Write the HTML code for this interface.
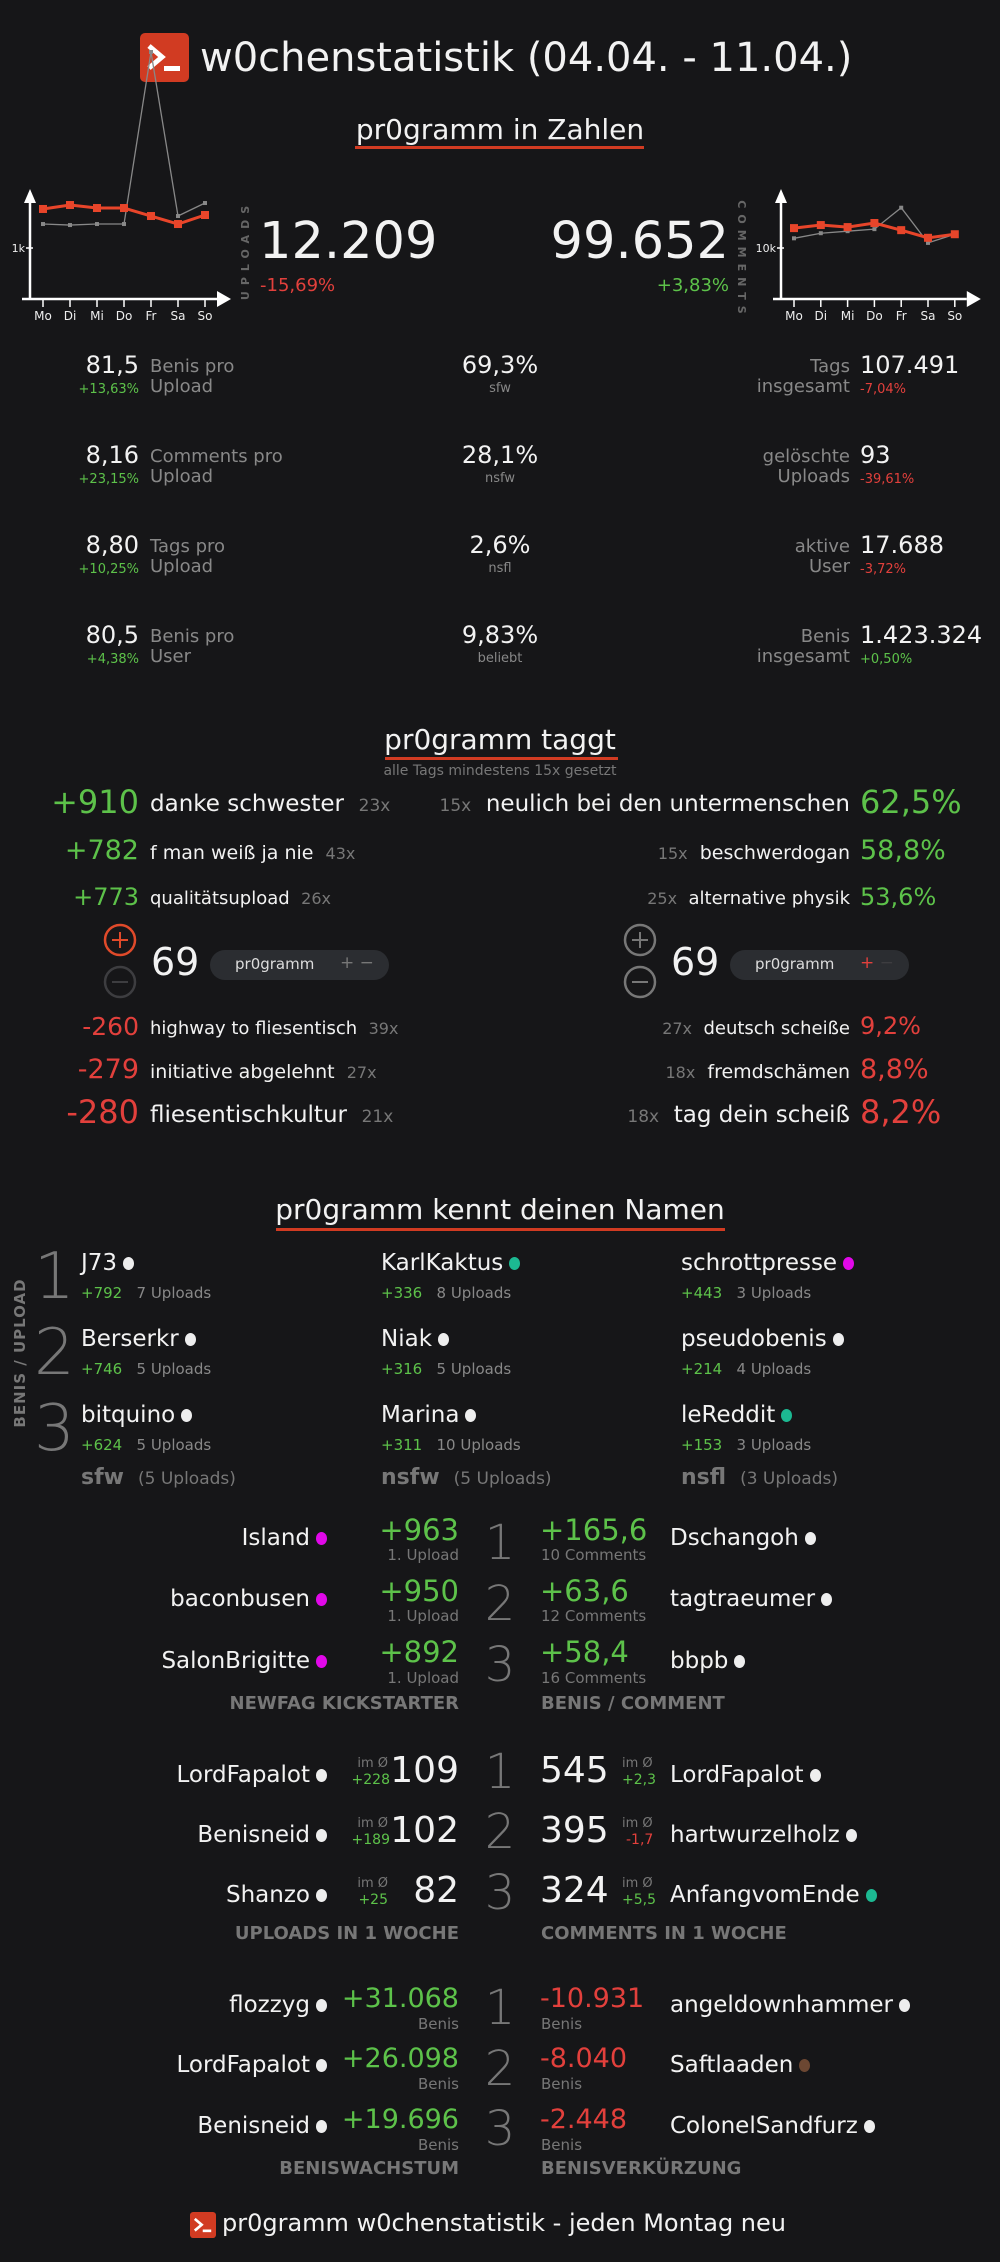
<!DOCTYPE html>
<html><head><meta charset="utf-8">
<style>
html,body{margin:0;padding:0;background:#161618;}
body{width:1000px;height:2262px;position:relative;overflow:hidden;font-family:"DejaVu Sans","Liberation Sans",sans-serif;color:#f2f2f2;}
.t{position:absolute;white-space:nowrap;line-height:1;}
.c{left:0;width:1000px;text-align:center;}
.g{color:#5dc24a}.r{color:#e2403c}.m{color:#888}.d{color:#777}
.ul{position:absolute;height:3px;background:#d13b22;}
.dot{display:inline-block;width:11px;height:13px;border-radius:50%;background:#eee;margin-left:6px;vertical-align:0px;}
.dm{background:#e108e9}.dt{background:#1cb992}.db{background:#6c4732}
.lbl{font-weight:bold;font-size:18px;color:#777;}
.rk{font-family:"DejaVu Sans ExtraLight","DejaVu Sans",sans-serif;font-weight:200;color:#777;}
.pill{position:absolute;height:30px;width:179px;border-radius:15px;background:#2b2d31;}
</style></head><body>

<svg style="position:absolute;left:140px;top:33px" width="49" height="49" viewBox="0 0 49 49"><rect width="49" height="49" rx="5" fill="#d13b22"/><path d="M9 13 L22 24 L9 35" stroke="#fff" stroke-width="5" fill="none"/><rect x="24" y="33" width="16" height="5" fill="#fff"/></svg>
<div class="t" style="left:200px;top:38px;font-size:40px">w0chenstatistik (04.04. - 11.04.)</div>

<div class="t c" style="top:116px;font-size:28px">pr0gramm in Zahlen</div>
<div class="ul" style="left:355px;top:146px;width:289px"></div>

<svg id="charts" style="position:absolute;left:0;top:0" width="1000" height="340"></svg>

<div class="t" style="left:259px;top:216px;font-size:51px">12.209</div>
<div class="t r" style="left:260px;top:277px;font-size:18px">-15,69%</div>
<div class="t" style="right:271px;top:216px;font-size:51px">99.652</div>
<div class="t g" style="right:271px;top:277px;font-size:18px">+3,83%</div>

<!-- stats rows -->
<div class="t" style="right:861px;top:353px;font-size:24px">81,5</div>
<div class="t g" style="right:861px;top:383px;font-size:13px">+13,63%</div>
<div class="t m" style="left:150px;top:357px;font-size:18px;line-height:20px">Benis pro<br>Upload</div>
<div class="t c" style="top:353px;font-size:24px">69,3%</div>
<div class="t c m" style="top:382px;font-size:13px">sfw</div>
<div class="t m" style="right:150px;top:357px;font-size:18px;line-height:20px;text-align:right">Tags<br>insgesamt</div>
<div class="t" style="left:860px;top:353px;font-size:24px">107.491</div>
<div class="t r" style="left:860px;top:383px;font-size:13px">-7,04%</div>

<div class="t" style="right:861px;top:443px;font-size:24px">8,16</div>
<div class="t g" style="right:861px;top:473px;font-size:13px">+23,15%</div>
<div class="t m" style="left:150px;top:447px;font-size:18px;line-height:20px">Comments pro<br>Upload</div>
<div class="t c" style="top:443px;font-size:24px">28,1%</div>
<div class="t c m" style="top:472px;font-size:13px">nsfw</div>
<div class="t m" style="right:150px;top:447px;font-size:18px;line-height:20px;text-align:right">gelöschte<br>Uploads</div>
<div class="t" style="left:860px;top:443px;font-size:24px">93</div>
<div class="t r" style="left:860px;top:473px;font-size:13px">-39,61%</div>

<div class="t" style="right:861px;top:533px;font-size:24px">8,80</div>
<div class="t g" style="right:861px;top:563px;font-size:13px">+10,25%</div>
<div class="t m" style="left:150px;top:537px;font-size:18px;line-height:20px">Tags pro<br>Upload</div>
<div class="t c" style="top:533px;font-size:24px">2,6%</div>
<div class="t c m" style="top:562px;font-size:13px">nsfl</div>
<div class="t m" style="right:150px;top:537px;font-size:18px;line-height:20px;text-align:right">aktive<br>User</div>
<div class="t" style="left:860px;top:533px;font-size:24px">17.688</div>
<div class="t r" style="left:860px;top:563px;font-size:13px">-3,72%</div>

<div class="t" style="right:861px;top:623px;font-size:24px">80,5</div>
<div class="t g" style="right:861px;top:653px;font-size:13px">+4,38%</div>
<div class="t m" style="left:150px;top:627px;font-size:18px;line-height:20px">Benis pro<br>User</div>
<div class="t c" style="top:623px;font-size:24px">9,83%</div>
<div class="t c m" style="top:652px;font-size:13px">beliebt</div>
<div class="t m" style="right:150px;top:627px;font-size:18px;line-height:20px;text-align:right">Benis<br>insgesamt</div>
<div class="t" style="left:860px;top:623px;font-size:24px">1.423.324</div>
<div class="t g" style="left:860px;top:653px;font-size:13px">+0,50%</div>

<!-- taggt -->
<div class="t c" style="top:726px;font-size:28px">pr0gramm taggt</div>
<div class="ul" style="left:385px;top:757px;width:233px"></div>
<div class="t c d" style="top:764px;font-size:14px">alle Tags mindestens 15x gesetzt</div>

<div class="t g" style="right:861px;top:786px;font-size:32px">+910</div>
<div class="t" style="left:150px;top:793px;font-size:23px">danke schwester&nbsp; <span class="d" style="font-size:17px">23x</span></div>
<div class="t g" style="right:861px;top:837px;font-size:27px">+782</div>
<div class="t" style="left:150px;top:844px;font-size:19px">f man weiß ja nie&nbsp; <span class="d" style="font-size:16px">43x</span></div>
<div class="t g" style="right:861px;top:885px;font-size:24px">+773</div>
<div class="t" style="left:150px;top:890px;font-size:18px">qualitätsupload&nbsp; <span class="d" style="font-size:16px">26x</span></div>

<div class="t" style="right:150px;top:793px;font-size:23px"><span class="d" style="font-size:17px">15x</span>&nbsp; neulich bei den untermenschen</div>
<div class="t g" style="left:860px;top:786px;font-size:32px">62,5%</div>
<div class="t" style="right:150px;top:844px;font-size:19px"><span class="d" style="font-size:16px">15x</span>&nbsp; beschwerdogan</div>
<div class="t g" style="left:860px;top:837px;font-size:27px">58,8%</div>
<div class="t" style="right:150px;top:890px;font-size:18px"><span class="d" style="font-size:16px">25x</span>&nbsp; alternative physik</div>
<div class="t g" style="left:860px;top:885px;font-size:24px">53,6%</div>

<svg style="position:absolute;left:0;top:900px" width="1000" height="110">
<g><circle cx="120" cy="40" r="15" fill="none" stroke="#e04a2a" stroke-width="2.5"/><path d="M112 40H128M120 32V48" stroke="#e04a2a" stroke-width="2"/></g>
<g><circle cx="120" cy="82" r="15" fill="none" stroke="#3d3d40" stroke-width="2.5"/><path d="M112 82H128" stroke="#3d3d40" stroke-width="2"/></g>
<g><circle cx="640" cy="40" r="15" fill="none" stroke="#777" stroke-width="2.5"/><path d="M632 40H648M640 32V48" stroke="#777" stroke-width="2"/></g>
<g><circle cx="640" cy="82" r="15" fill="none" stroke="#777" stroke-width="2.5"/><path d="M632 82H648" stroke="#777" stroke-width="2"/></g>
</svg>
<div class="t" style="left:151px;top:943px;font-size:38px">69</div>
<div class="pill" style="left:210px;top:950px"></div>
<div class="t" style="left:235px;top:957px;font-size:15px;color:#ddd">pr0gramm</div>
<div class="t" style="left:340px;top:955px;font-size:17px;color:#777">+ −</div>
<div class="t" style="left:671px;top:943px;font-size:38px">69</div>
<div class="pill" style="left:730px;top:950px"></div>
<div class="t" style="left:755px;top:957px;font-size:15px;color:#ddd">pr0gramm</div>
<div class="t" style="left:860px;top:955px;font-size:17px"><span style="color:#e2403c">+</span> <span style="color:#3d3d40">−</span></div>

<div class="t r" style="right:861px;top:1014px;font-size:25px">-260</div>
<div class="t" style="left:150px;top:1020px;font-size:18px">highway to fliesentisch&nbsp; <span class="d" style="font-size:16px">39x</span></div>
<div class="t r" style="right:861px;top:1056px;font-size:27px">-279</div>
<div class="t" style="left:150px;top:1063px;font-size:19px">initiative abgelehnt&nbsp; <span class="d" style="font-size:16px">27x</span></div>
<div class="t r" style="right:861px;top:1096px;font-size:32px">-280</div>
<div class="t" style="left:150px;top:1104px;font-size:23px">fliesentischkultur&nbsp; <span class="d" style="font-size:17px">21x</span></div>

<div class="t" style="right:150px;top:1020px;font-size:18px"><span class="d" style="font-size:16px">27x</span>&nbsp; deutsch scheiße</div>
<div class="t r" style="left:860px;top:1014px;font-size:24px">9,2%</div>
<div class="t" style="right:150px;top:1063px;font-size:19px"><span class="d" style="font-size:16px">18x</span>&nbsp; fremdschämen</div>
<div class="t r" style="left:860px;top:1056px;font-size:27px">8,8%</div>
<div class="t" style="right:150px;top:1104px;font-size:23px"><span class="d" style="font-size:17px">18x</span>&nbsp; tag dein scheiß</div>
<div class="t r" style="left:860px;top:1096px;font-size:32px">8,2%</div>

<!-- names -->
<div class="t c" style="top:1196px;font-size:28px">pr0gramm kennt deinen Namen</div>
<div class="ul" style="left:276px;top:1228px;width:449px"></div>
<svg style="position:absolute;left:0;top:1260px" width="40" height="190"><text transform="translate(25,93) rotate(-90)" text-anchor="middle" font-family="DejaVu Sans" font-weight="bold" font-size="15" fill="#777" letter-spacing="1">BENIS / UPLOAD</text></svg>

<div class="t rk" style="left:34px;top:1245px;font-size:64px">1</div>
<div class="t rk" style="left:34px;top:1321px;font-size:64px">2</div>
<div class="t rk" style="left:34px;top:1397px;font-size:64px">3</div>

<div class="t" style="left:81px;top:1252px;font-size:23px">J73<span class="dot"></span></div>
<div class="t" style="left:81px;top:1286px;font-size:15px"><span class="g">+792</span>&nbsp;&nbsp;&nbsp;<span class="m">7 Uploads</span></div>
<div class="t" style="left:81px;top:1328px;font-size:23px">Berserkr<span class="dot"></span></div>
<div class="t" style="left:81px;top:1362px;font-size:15px"><span class="g">+746</span>&nbsp;&nbsp;&nbsp;<span class="m">5 Uploads</span></div>
<div class="t" style="left:81px;top:1404px;font-size:23px">bitquino<span class="dot"></span></div>
<div class="t" style="left:81px;top:1438px;font-size:15px"><span class="g">+624</span>&nbsp;&nbsp;&nbsp;<span class="m">5 Uploads</span></div>
<div class="t" style="left:81px;top:1467px;font-size:22px;color:#777"><b>sfw</b>&nbsp; <span style="font-size:17px">(5 Uploads)</span></div>

<div class="t" style="left:381px;top:1252px;font-size:23px">KarlKaktus<span class="dot dt"></span></div>
<div class="t" style="left:381px;top:1286px;font-size:15px"><span class="g">+336</span>&nbsp;&nbsp;&nbsp;<span class="m">8 Uploads</span></div>
<div class="t" style="left:381px;top:1328px;font-size:23px">Niak<span class="dot"></span></div>
<div class="t" style="left:381px;top:1362px;font-size:15px"><span class="g">+316</span>&nbsp;&nbsp;&nbsp;<span class="m">5 Uploads</span></div>
<div class="t" style="left:381px;top:1404px;font-size:23px">Marina<span class="dot"></span></div>
<div class="t" style="left:381px;top:1438px;font-size:15px"><span class="g">+311</span>&nbsp;&nbsp;&nbsp;<span class="m">10 Uploads</span></div>
<div class="t" style="left:381px;top:1467px;font-size:22px;color:#777"><b>nsfw</b>&nbsp; <span style="font-size:17px">(5 Uploads)</span></div>

<div class="t" style="left:681px;top:1252px;font-size:23px">schrottpresse<span class="dot dm"></span></div>
<div class="t" style="left:681px;top:1286px;font-size:15px"><span class="g">+443</span>&nbsp;&nbsp;&nbsp;<span class="m">3 Uploads</span></div>
<div class="t" style="left:681px;top:1328px;font-size:23px">pseudobenis<span class="dot"></span></div>
<div class="t" style="left:681px;top:1362px;font-size:15px"><span class="g">+214</span>&nbsp;&nbsp;&nbsp;<span class="m">4 Uploads</span></div>
<div class="t" style="left:681px;top:1404px;font-size:23px">leReddit<span class="dot dt"></span></div>
<div class="t" style="left:681px;top:1438px;font-size:15px"><span class="g">+153</span>&nbsp;&nbsp;&nbsp;<span class="m">3 Uploads</span></div>
<div class="t" style="left:681px;top:1467px;font-size:22px;color:#777"><b>nsfl</b>&nbsp; <span style="font-size:17px">(3 Uploads)</span></div>

<!-- newfag / benis per comment -->
<div class="t" style="right:673px;top:1527px;font-size:23px">Island<span class="dot dm"></span></div>
<div class="t" style="right:673px;top:1588px;font-size:23px">baconbusen<span class="dot dm"></span></div>
<div class="t" style="right:673px;top:1650px;font-size:23px">SalonBrigitte<span class="dot dm"></span></div>
<div class="t g" style="right:541px;top:1516px;font-size:29px">+963</div>
<div class="t g" style="right:541px;top:1577px;font-size:29px">+950</div>
<div class="t g" style="right:541px;top:1638px;font-size:29px">+892</div>
<div class="t d" style="right:541px;top:1548px;font-size:15px">1. Upload</div>
<div class="t d" style="right:541px;top:1609px;font-size:15px">1. Upload</div>
<div class="t d" style="right:541px;top:1671px;font-size:15px">1. Upload</div>
<div class="t c rk" style="top:1519px;font-size:48px">1</div>
<div class="t c rk" style="top:1580px;font-size:48px">2</div>
<div class="t c rk" style="top:1641px;font-size:48px">3</div>
<div class="t g" style="left:540px;top:1516px;font-size:29px">+165,6</div>
<div class="t g" style="left:540px;top:1577px;font-size:29px">+63,6</div>
<div class="t g" style="left:540px;top:1638px;font-size:29px">+58,4</div>
<div class="t d" style="left:541px;top:1548px;font-size:15px">10 Comments</div>
<div class="t d" style="left:541px;top:1609px;font-size:15px">12 Comments</div>
<div class="t d" style="left:541px;top:1671px;font-size:15px">16 Comments</div>
<div class="t" style="left:670px;top:1527px;font-size:23px">Dschangoh<span class="dot"></span></div>
<div class="t" style="left:670px;top:1588px;font-size:23px">tagtraeumer<span class="dot"></span></div>
<div class="t" style="left:670px;top:1650px;font-size:23px">bbpb<span class="dot"></span></div>
<div class="t lbl" style="right:541px;top:1695px">NEWFAG KICKSTARTER</div>
<div class="t lbl" style="left:541px;top:1695px">BENIS / COMMENT</div>

<!-- uploads / comments per week -->
<div class="t" style="right:673px;top:1764px;font-size:23px">LordFapalot<span class="dot"></span></div>
<div class="t" style="right:673px;top:1824px;font-size:23px">Benisneid<span class="dot"></span></div>
<div class="t" style="right:673px;top:1884px;font-size:23px">Shanzo<span class="dot"></span></div>
<div class="t d" style="right:612px;top:1757px;font-size:13px">im Ø</div>
<div class="t g" style="right:610px;top:1773px;font-size:14px">+228</div>
<div class="t d" style="right:612px;top:1817px;font-size:13px">im Ø</div>
<div class="t g" style="right:610px;top:1833px;font-size:14px">+189</div>
<div class="t d" style="right:612px;top:1877px;font-size:13px">im Ø</div>
<div class="t g" style="right:612px;top:1893px;font-size:14px">+25</div>
<div class="t" style="right:541px;top:1753px;font-size:36px">109</div>
<div class="t" style="right:541px;top:1813px;font-size:36px">102</div>
<div class="t" style="right:541px;top:1873px;font-size:36px">82</div>
<div class="t c rk" style="top:1748px;font-size:48px">1</div>
<div class="t c rk" style="top:1808px;font-size:48px">2</div>
<div class="t c rk" style="top:1869px;font-size:48px">3</div>
<div class="t" style="left:540px;top:1753px;font-size:36px">545</div>
<div class="t" style="left:540px;top:1813px;font-size:36px">395</div>
<div class="t" style="left:540px;top:1873px;font-size:36px">324</div>
<div class="t d" style="left:622px;top:1757px;font-size:13px">im Ø</div>
<div class="t g" style="left:622px;top:1773px;font-size:14px">+2,3</div>
<div class="t d" style="left:622px;top:1817px;font-size:13px">im Ø</div>
<div class="t r" style="left:626px;top:1833px;font-size:14px">-1,7</div>
<div class="t d" style="left:622px;top:1877px;font-size:13px">im Ø</div>
<div class="t g" style="left:622px;top:1893px;font-size:14px">+5,5</div>
<div class="t" style="left:670px;top:1764px;font-size:23px">LordFapalot<span class="dot"></span></div>
<div class="t" style="left:670px;top:1824px;font-size:23px">hartwurzelholz<span class="dot"></span></div>
<div class="t" style="left:670px;top:1884px;font-size:23px">AnfangvomEnde<span class="dot dt"></span></div>
<div class="t lbl" style="right:541px;top:1925px">UPLOADS IN 1 WOCHE</div>
<div class="t lbl" style="left:541px;top:1925px">COMMENTS IN 1 WOCHE</div>

<!-- benis growth -->
<div class="t" style="right:673px;top:1994px;font-size:23px">flozzyg<span class="dot"></span></div>
<div class="t" style="right:673px;top:2054px;font-size:23px">LordFapalot<span class="dot"></span></div>
<div class="t" style="right:673px;top:2115px;font-size:23px">Benisneid<span class="dot"></span></div>
<div class="t g" style="right:541px;top:1985px;font-size:27px">+31.068</div>
<div class="t g" style="right:541px;top:2045px;font-size:27px">+26.098</div>
<div class="t g" style="right:541px;top:2106px;font-size:27px">+19.696</div>
<div class="t d" style="right:541px;top:2017px;font-size:15px">Benis</div>
<div class="t d" style="right:541px;top:2077px;font-size:15px">Benis</div>
<div class="t d" style="right:541px;top:2138px;font-size:15px">Benis</div>
<div class="t c rk" style="top:1984px;font-size:48px">1</div>
<div class="t c rk" style="top:2045px;font-size:48px">2</div>
<div class="t c rk" style="top:2105px;font-size:48px">3</div>
<div class="t r" style="left:540px;top:1985px;font-size:27px">-10.931</div>
<div class="t r" style="left:540px;top:2045px;font-size:27px">-8.040</div>
<div class="t r" style="left:540px;top:2106px;font-size:27px">-2.448</div>
<div class="t d" style="left:541px;top:2017px;font-size:15px">Benis</div>
<div class="t d" style="left:541px;top:2077px;font-size:15px">Benis</div>
<div class="t d" style="left:541px;top:2138px;font-size:15px">Benis</div>
<div class="t" style="left:670px;top:1994px;font-size:23px">angeldownhammer<span class="dot"></span></div>
<div class="t" style="left:670px;top:2054px;font-size:23px">Saftlaaden<span class="dot db"></span></div>
<div class="t" style="left:670px;top:2115px;font-size:23px">ColonelSandfurz<span class="dot"></span></div>
<div class="t lbl" style="right:541px;top:2160px">BENISWACHSTUM</div>
<div class="t lbl" style="left:541px;top:2160px">BENISVERKÜRZUNG</div>

<!-- footer -->
<svg style="position:absolute;left:190px;top:2212px" width="26" height="26" viewBox="0 0 49 49"><rect width="49" height="49" rx="6" fill="#d13b22"/><path d="M9 13 L22 24 L9 35" stroke="#fff" stroke-width="5" fill="none"/><rect x="24" y="33" width="16" height="5" fill="#fff"/></svg>
<div class="t" style="left:222px;top:2211px;font-size:24px">pr0gramm w0chenstatistik - jeden Montag neu</div>

<script>
const days = ["Mo","Di","Mi","Do","Fr","Sa","So"];
const uploadsThisWeek = [1765,1843,1784,1784,1627,1470,1647];
const uploadsLastWeek = [1470,1450,1470,1470,4843,1627,1882];
const commentsThisWeek = [13900,14500,14100,14900,13500,12000,12700];
const commentsLastWeek = [11900,12900,13300,13700,17900,11000,12700];
const uploadTicks = [{v:1000,label:"1k"}];
const commentTicks = [{v:10000,label:"10k"}];

const NS = "http://www.w3.org/2000/svg";
const svg = document.getElementById("charts");
function mk(tag, attrs, parent){
  const e = document.createElementNS(NS, tag);
  for (const k in attrs) e.setAttribute(k, attrs[k]);
  (parent||svg).appendChild(e);
  return e;
}
function drawChart(x0, step, yBase, perUnit, thisW, lastW, ticks, name){
  const xs = i => x0 + i*step;
  const ys = v => yBase - v*perUnit;
  const g = mk("g", {});
  
  
  const ax = x0 - 13;
  mk("line",{x1:ax,y1:yBase,x2:ax,y2:yBase-98,stroke:"#fff","stroke-width":2.5},g);
  mk("path",{d:`M${ax-6} ${yBase-96}L${ax} ${yBase-110}L${ax+6} ${yBase-96}Z`,fill:"#fff"},g);
  mk("line",{x1:ax-8,y1:yBase,x2:x0+6*step+12,y2:yBase,stroke:"#fff","stroke-width":2.5},g);
  mk("path",{d:`M${x0+6*step+12} ${yBase-8}L${x0+6*step+26} ${yBase}L${x0+6*step+12} ${yBase+8}Z`,fill:"#fff"},g);
  ticks.forEach(t=>{
    const y = ys(t.v);
    mk("line",{x1:ax-4,y1:y,x2:ax+3,y2:y,stroke:"#fff","stroke-width":1.5},g);
    const tx = mk("text",{x:ax-5,y:y+4,"text-anchor":"end","font-size":11,fill:"#eee","font-family":"DejaVu Sans"},g);
    tx.textContent = t.label;
  });
  days.forEach((d,i)=>{
    mk("line",{x1:xs(i),y1:yBase,x2:xs(i),y2:yBase+8,stroke:"#fff","stroke-width":1.5},g);
    const tx = mk("text",{x:xs(i),y:yBase+21,"text-anchor":"middle","font-size":12,fill:"#eee","font-family":"DejaVu Sans"},g);
    tx.textContent = d;
  });
  const lastPts = lastW.map((v,i)=>xs(i)+","+ys(v)).join(" ");
  const pl = mk("polyline",{points:lastPts,fill:"none",stroke:"#888","stroke-width":1.3},g);
  
  lastW.forEach((v,i)=>mk("rect",{x:xs(i)-2,y:ys(v)-2,width:4,height:4,fill:"#888"},g));
  const thisPts = thisW.map((v,i)=>xs(i)+","+ys(v)).join(" ");
  const pt = mk("polyline",{points:thisPts,fill:"none",stroke:"#e8452a","stroke-width":3},g);
  
  thisW.forEach((v,i)=>mk("rect",{x:xs(i)-4,y:ys(v)-4,width:8,height:8,fill:"#e8452a"},g));
}
drawChart(43, 27, 299, 51/1000, uploadsThisWeek, uploadsLastWeek, uploadTicks, "uploads-chart");
drawChart(794, 26.8, 299, 51/10000, commentsThisWeek, commentsLastWeek, commentTicks, "comments-chart");

const up = mk("text",{transform:"translate(249,250) rotate(-90)","text-anchor":"middle","font-size":11,"font-weight":"bold",fill:"#666","letter-spacing":6,"font-family":"DejaVu Sans"});

up.textContent = "UPLOADS";
const cm = mk("text",{transform:"translate(738,260) rotate(90)","text-anchor":"middle","font-size":11,"font-weight":"bold",fill:"#666","letter-spacing":6,"font-family":"DejaVu Sans"});

cm.textContent = "COMMENTS";
</script>
</body></html>
